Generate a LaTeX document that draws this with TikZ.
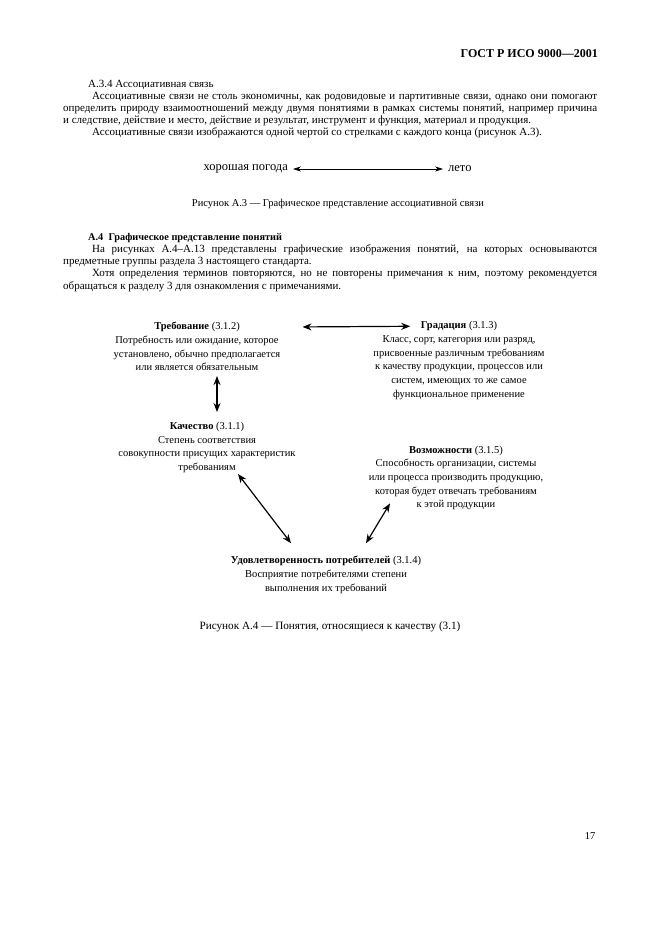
\documentclass[tikz,border=0pt]{standalone}
\usepackage{fontspec}
\setmainfont{Liberation Serif}
\usetikzlibrary{arrows.meta,positioning,calc}
\tikzset{
  body/.style={anchor=base west, inner sep=0pt, font=\fontsize{11}{12}\selectfont},
  capt/.style={anchor=base, inner sep=0pt, font=\fontsize{10.5}{12}\selectfont},
  concept/.style={align=center, inner sep=0pt, font=\fontsize{10.5}{13.7}\selectfont},
  assoc/.style={{Stealth[length=8pt,width=5pt]}-{Stealth[length=8pt,width=5pt]},
                line width=0.6pt, shorten <=5pt, shorten >=5pt},
  link/.style={{Stealth[length=9pt,width=7pt]}-{Stealth[length=9pt,width=7pt]},
               line width=1.2pt},
}
\newcommand{\fullline}[1]{\makebox[534pt][s]{#1}}
\newcommand{\indline}[1]{\makebox[505pt][s]{#1}}

\begin{document}
\begin{tikzpicture}[x=1pt,y=-1pt]
\useasboundingbox (0,0) rectangle (661,936);

% ---------- running head ----------
\node[anchor=base east, inner sep=0pt, font=\fontsize{12}{12}\bfseries]
   (head) at (598,58) {ГОСТ Р ИСО 9000—2001};

% ---------- A.3.4 ----------
\node[body] (p1) at (88,88)  {А.3.4 Ассоциативная связь};
\node[body] (p2) at (92,100) {\indline{Ассоциативные связи не столь экономичны, как родовидовые и партитивные связи, однако они помогают}};
\node[body] (p3) at (63,112) {\fullline{определить природу взаимоотношений между двумя понятиями в рамках системы понятий, например причина}};
\node[body] (p4) at (63,124) {и следствие, действие и место, действие и результат, инструмент и функция, материал и продукция.};
\node[body] (p5) at (92,136) {Ассоциативные связи изображаются одной чертой со стрелками с каждого конца (рисунок А.3).};

% figure A.3
\node[capt, anchor=east, font=\fontsize{12.5}{12}\selectfont] (pogoda) at (288,169) {хорошая погода};
\node[capt, anchor=west, font=\fontsize{12.5}{12}\selectfont] (leto) at (448,169) {лето};
\draw[assoc] (pogoda.east) -- (leto.west);
\node[capt] (capA3) at (338,206) {Рисунок А.3 — Графическое представление ассоциативной связи};

% ---------- A.4 ----------
\node[body, font=\fontsize{10.3}{12}\bfseries] (h4) at (88,240) {А.4\enspace Графическое представление понятий};
\node[body] (q1) at (92,252) {\indline{На рисунках А.4–А.13 представлены графические изображения понятий, на которых основываются}};
\node[body] (q2) at (63,264) {предметные группы раздела 3 настоящего стандарта.};
\node[body] (q3) at (92,276) {\indline{Хотя определения терминов повторяются, но не повторены примечания к ним, поэтому рекомендуется}};
\node[body] (q4) at (63,289) {обращаться к разделу 3 для ознакомления с примечаниями.};

% figure A.4
\node[concept] (treb) at (197,346.5) {\textbf{Требование} (3.1.2)\\
   Потребность или ожидание, которое\\
   установлено, обычно предполагается\\
   или является обязательным};
\node[concept] (grad) at (459,360.5) {\textbf{Градация} (3.1.3)\\
   Класс, сорт, категория или разряд,\\
   присвоенные различным требованиям\\
   к качеству продукции, процессов или\\
   систем, имеющих то же самое\\
   функциональное применение};
\node[concept] (kach) at (207,447.5) {\textbf{Качество} (3.1.1)\\
   Степень соответствия\\
   совокупности присущих характеристик\\
   требованиям};
\node[concept] (vozm) at (456,478) {\textbf{Возможности} (3.1.5)\\
   Способность организации, системы\\
   или процесса производить продукцию,\\
   которая будет отвечать требованиям\\
   к этой продукции};
\node[concept] (udov) at (326,575) {\textbf{Удовлетворенность потребителей} (3.1.4)\\
   Восприятие потребителями степени\\
   выполнения их требований};

\draw[link] ($(treb.north east)+(22,5)$) -- ($(grad.north west)+(37,5)$);
\draw[link] ($(treb.south)+(20,5)$) -- ($(kach.north)+(10,-10)$);
\draw[link] ($(kach.south)+(31,1)$) -- ($(udov.north)+(-35,-13)$);
\draw[link] ($(vozm.south)+(-66,-7)$) -- ($(udov.north)+(40,-13)$);

\node[capt, font=\fontsize{11.2}{12}\selectfont] (capA4) at (330,629) {Рисунок А.4 — Понятия, относящиеся к качеству (3.1)};

% page number
\node[inner sep=0pt, font=\fontsize{10.5}{12}\selectfont] (page) at (590,836) {17};
\end{tikzpicture}
\end{document}
